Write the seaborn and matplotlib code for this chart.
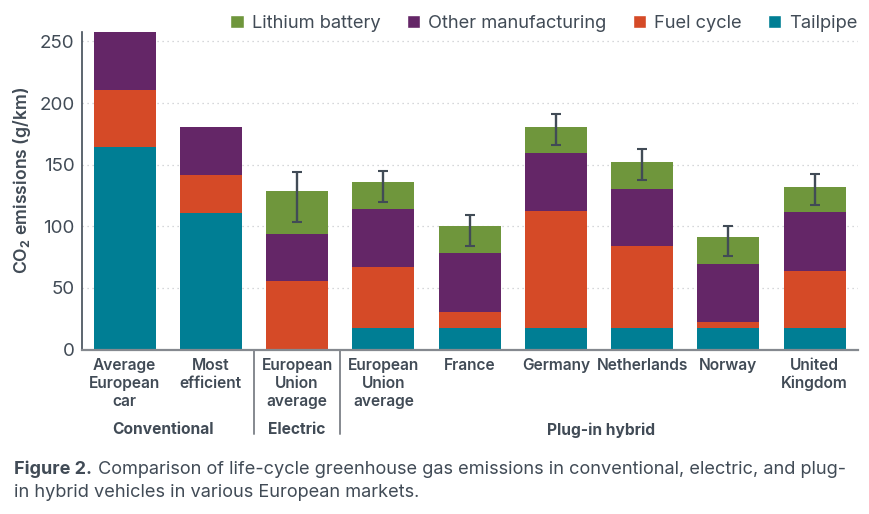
# Life-cycle emissions, stacked bars
import numpy as np
import matplotlib
matplotlib.use('Agg')
import matplotlib.pyplot as plt
from matplotlib.patches import Patch
import seaborn as sns

labels = ['Average\nEuropean\ncar', 'Most\nefficient', 'European\nUnion\naverage',
          'European\nUnion\naverage', 'France', 'Germany', 'Netherlands', 'Norway',
          'United\nKingdom']
groups = ['Conventional', 'Electric', 'Plug-in hybrid']

# stack segments in g/km, bottom to top
tailpipe = [164.6, 110.5, 0, 17.2, 17.2, 17.2, 17.2, 17.2, 17.2]
fuel_cycle = [46.0, 30.9, 55.3, 49.5, 13.5, 95.2, 66.8, 5.4, 46.3]
other_manuf = [47.4, 39.5, 38.7, 47.6, 47.9, 47.1, 46.5, 47.1, 47.9]
lithium = [0, 0, 35.0, 21.7, 21.6, 21.4, 21.7, 21.3, 20.5]

err_idx = [2, 3, 4, 5, 6, 7, 8]
err_low = [103.7, 120.0, 84.3, 166.0, 137.6, 76.0, 117.3]
err_high = [143.8, 144.9, 109.2, 191.2, 162.5, 100.0, 142.2]

TEXT = '#414b56'
colors = {'Lithium battery': '#6f963c', 'Other manufacturing': '#642667',
          'Fuel cycle': '#d54a27', 'Tailpipe': '#007e94'}

sns.set_theme(style='white')
plt.rcParams['font.family'] = ['Inter', 'DejaVu Sans']
plt.rcParams['mathtext.fontset'] = 'custom'
plt.rcParams['mathtext.bf'] = 'Inter:bold'

W, H = 869, 514
fig = plt.figure(figsize=(W / 100, H / 100), dpi=100)
ax = fig.add_axes([81.5 / W, 1 - 349.5 / H, (857.7 - 81.5) / W, (349.5 - 32) / H])

x = np.arange(len(labels))
bottom = np.zeros(len(labels))
stack = [('Tailpipe', tailpipe), ('Fuel cycle', fuel_cycle),
         ('Other manufacturing', other_manuf), ('Lithium battery', lithium)]
for name, vals in stack:
    sns.barplot(x=x, y=vals, bottom=bottom, color=colors[name], saturation=1,
                width=0.72, linewidth=0, ax=ax, zorder=2)
    bottom = bottom + np.array(vals)

low = np.array(err_low)
high = np.array(err_high)
mid = (low + high) / 2
ax.errorbar(err_idx, mid, yerr=[mid - low, high - mid], fmt='none', ecolor=TEXT,
            elinewidth=1.7, capsize=3.5, capthick=1.5, zorder=3)

ax.set_xlim(-0.5, 8.5)
ax.set_ylim(0, 257.7)
ax.set_yticks([0, 50, 100, 150, 200, 250])
ax.yaxis.grid(True, linestyle=(0, (1, 3)), color='#c9cbce', linewidth=0.9)
ax.xaxis.grid(False)
ax.set_axisbelow(True)
ax.tick_params(axis='y', length=0, pad=5, labelsize=13.5, labelcolor=TEXT)
ax.set_xticks(x)
ax.set_xticklabels(labels, fontsize=11.2, fontweight='semibold', color=TEXT, linespacing=1.25)
ax.tick_params(axis='x', length=0, pad=6)
ax.set_xlabel('')
ax.set_ylabel('')

sns.despine(ax=ax)
ax.spines['left'].set_color(TEXT)
ax.spines['left'].set_linewidth(1.2)
ax.spines['bottom'].set_color('#85898f')
ax.spines['bottom'].set_linewidth(1.6)

# separators between the vehicle groups
trans = ax.get_xaxis_transform()
for sep in [1.5, 2.5]:
    ax.plot([sep, sep], [0, -0.266], transform=trans, color='#85898f', lw=1.4, clip_on=False)

def px(xp, yp):
    return xp / W, 1 - yp / H

for name, xp in zip(groups, [163, 296.7, 600.7]):
    fig.text(*px(xp, 430), name, ha='center', va='center', fontsize=11.2,
             fontweight='bold', color=TEXT)

fig.text(*px(22, 180), r'CO$_{\mathbf{2}}$ emissions (g/km)', rotation=90, ha='center',
         va='center', fontsize=12.7, fontweight='semibold', color=TEXT)

handles = [Patch(facecolor=c, label=n) for n, c in colors.items()]
fig.legend(handles=handles, loc='center right', bbox_to_anchor=(858 / W, 1 - 23 / H),
           ncol=4, frameon=False, fontsize=13.2, labelcolor=TEXT, handlelength=0.72,
           handleheight=0.72, handletextpad=0.46, columnspacing=1.42, borderaxespad=0,
           borderpad=0)

fig.text(*px(14, 469), 'Figure 2.', ha='left', va='center', fontsize=13,
         fontweight='bold', color=TEXT)
fig.text(*px(98, 469), 'Comparison of life-cycle greenhouse gas emissions in conventional, '
         'electric, and plug-', ha='left', va='center', fontsize=13.1, color=TEXT)
fig.text(*px(14, 492.7), 'in hybrid vehicles in various European markets.', ha='left',
         va='center', fontsize=13.1, color=TEXT)

fig.savefig('out.png', dpi=100)
